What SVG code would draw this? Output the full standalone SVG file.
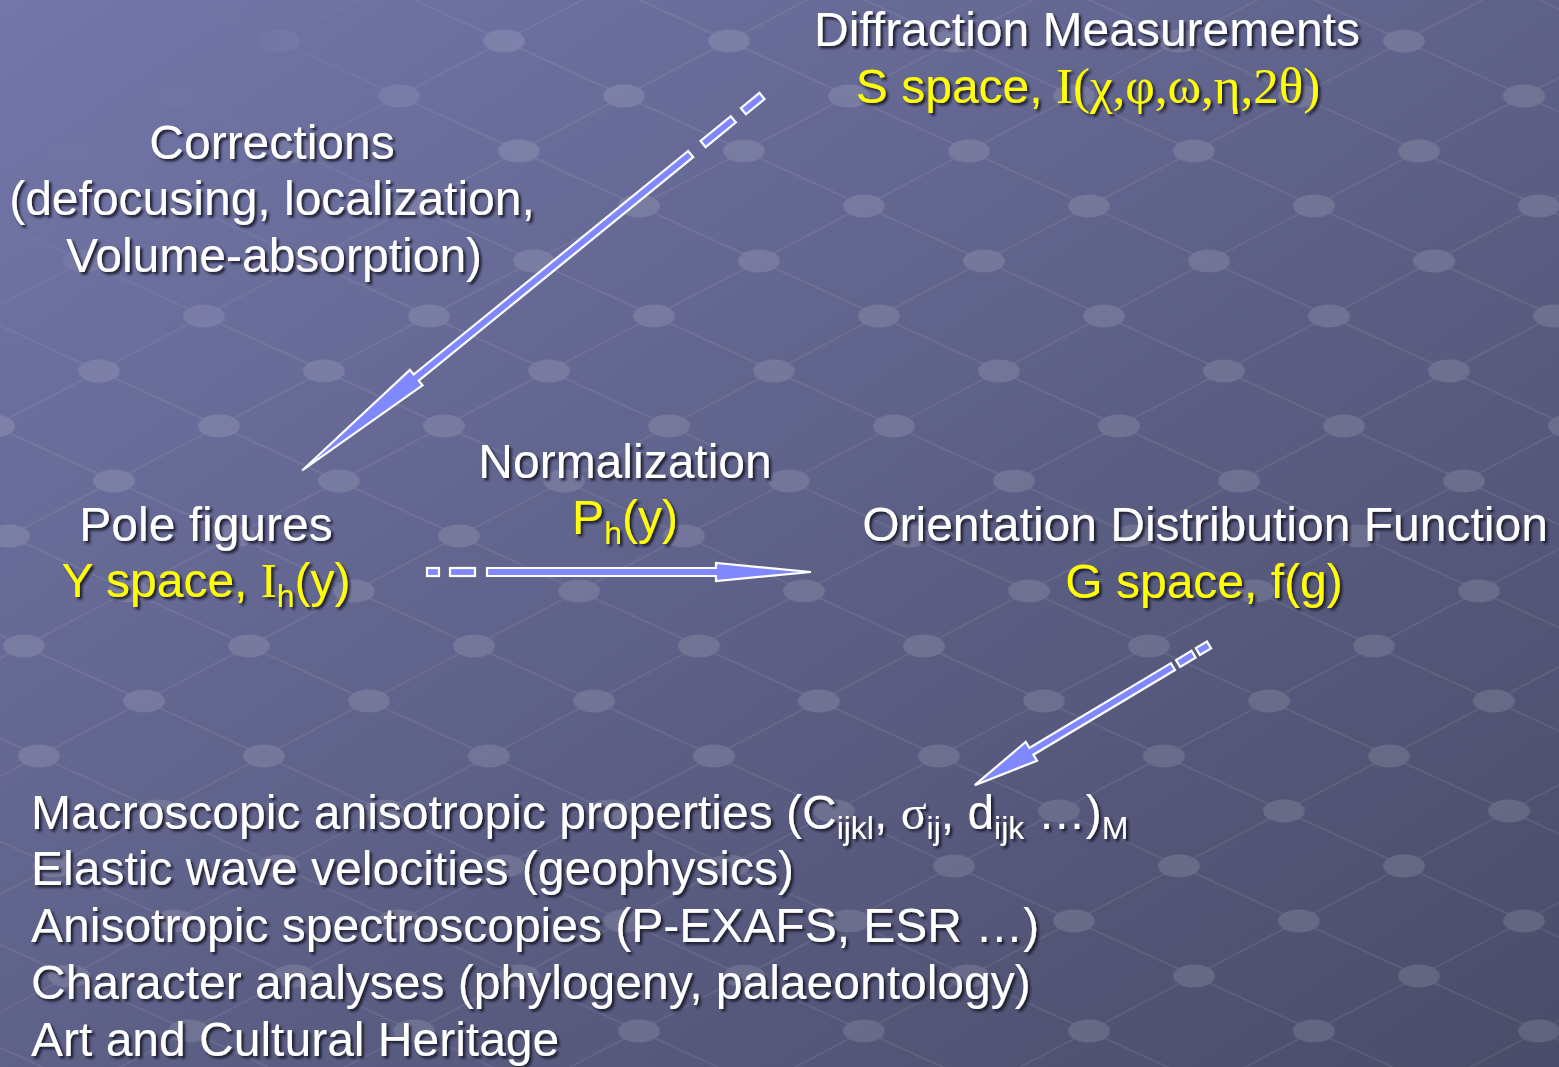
<svg xmlns="http://www.w3.org/2000/svg" width="1559" height="1067" viewBox="0 0 1559 1067">
<defs>
<linearGradient id="bg" x1="0" y1="0" x2="1" y2="1">
<stop offset="0" stop-color="#7377a9"/>
<stop offset="0.5" stop-color="#5e6188"/>
<stop offset="1" stop-color="#4a4c69"/>
</linearGradient>
<radialGradient id="fade" cx="0" cy="0" r="1" gradientUnits="userSpaceOnUse" gradientTransform="scale(520 400)">
<stop offset="0.35" stop-color="#000"/>
<stop offset="1" stop-color="#fff"/>
</radialGradient>
<mask id="m">
<rect width="1559" height="1067" fill="url(#fade)"/>
</mask>
<mask id="hole" maskUnits="userSpaceOnUse" x="0" y="0" width="100" height="100">
<rect width="100" height="100" fill="#fff"/>
<ellipse rx="21" ry="11.5" fill="#000" transform="translate(50 50) matrix(0.4444 -0.4444 0.8485 0.9697 0 0)"/>
</mask>
<pattern id="grid" width="100" height="100" patternUnits="userSpaceOnUse" patternTransform="matrix(1.2 0.55 -1.05 0.55 196.5 261)">
<g mask="url(#hole)">
<path d="M0 50 H100" stroke="#ffffff" stroke-opacity="0.09" stroke-width="1.6" fill="none"/>
<path d="M50 0 V100" stroke="#ffffff" stroke-opacity="0.09" stroke-width="1.4" fill="none"/>
</g>
<ellipse rx="21" ry="11.5" fill="#ffffff" fill-opacity="0.13" transform="translate(50 50) matrix(0.4444 -0.4444 0.8485 0.9697 0 0)"/>
</pattern>
<filter id="sh" x="-5%" y="-20%" width="110%" height="140%">
<feDropShadow dx="2.5" dy="2.5" stdDeviation="1.2" flood-color="#16162a" flood-opacity="0.9"/>
</filter>
</defs>
<style>
.t{font-family:"Liberation Sans",Arial,sans-serif;font-size:48px;fill:#ffffff;filter:url(#sh)}
.y{fill:#ffff00}
.c{text-anchor:middle}
.s{font-family:"Liberation Serif","Times New Roman",serif}
.big{font-size:51px}
.sub{font-size:32px}
.ar{fill:#8088ff;stroke:#ffffff;stroke-width:2.2;stroke-linejoin:miter}
</style>
<rect width="1559" height="1067" fill="url(#bg)"/>
<rect width="1559" height="1067" fill="url(#grid)" mask="url(#m)"/>

<g id="connectors">
<g id="arrow-corrections" transform="translate(762 96) rotate(140.84)">
<rect class="ar" x="0" y="-4" width="24" height="8"/>
<rect class="ar" x="37" y="-4" width="39" height="8"/>
<polygon class="ar" points="92,-4 446,-4 446,-10 593,0 446,10 446,4 92,4"/>
</g>
<g id="arrow-normalization" transform="translate(427 572)">
<rect class="ar" x="0" y="-4" width="12" height="8"/>
<rect class="ar" x="23" y="-4" width="25" height="8"/>
<polygon class="ar" points="60,-4 289,-4 289,-9 384,0 289,9 289,4 60,4"/>
</g>
<g id="arrow-odf" transform="translate(1209 645) rotate(149.1)">
<rect class="ar" x="0" y="-4" width="13" height="8"/>
<rect class="ar" x="18" y="-4" width="18" height="8"/>
<polygon class="ar" points="42,-4 207,-4 207,-11 273,0 207,11 207,4 42,4"/>
</g>
</g>

<g id="node-diffraction">
<text class="t c" x="1087" y="46">Diffraction Measurements</text>
<text class="t c y" x="1088" y="103">S space, <tspan class="s big">I(χ,φ,ω,η,2θ)</tspan></text>
</g>

<g id="node-corrections">
<text class="t c" x="272" y="159">Corrections</text>
<text class="t c" x="272" y="215">(defocusing, localization,</text>
<text class="t c" x="274" y="272">Volume-absorption)</text>
</g>

<g id="node-normalization">
<text class="t c" x="625" y="478">Normalization</text>
<text class="t c y" x="625" y="534">P<tspan class="sub" dy="10">h</tspan><tspan dy="-10">(y)</tspan></text>
</g>

<g id="node-pole">
<text class="t c" x="206" y="541">Pole figures</text>
<text class="t c y" x="206" y="597">Y space, <tspan class="s">I</tspan><tspan class="sub" dy="10">h</tspan><tspan dy="-10">(y)</tspan></text>
</g>

<g id="node-odf">
<text class="t c" x="1205" y="541">Orientation Distribution Function</text>
<text class="t c y" x="1204" y="598">G space, f(g)</text>
</g>

<g id="node-applications">
<text class="t" x="31" y="829">Macroscopic anisotropic properties (C<tspan class="sub" dy="10">ijkl</tspan><tspan dy="-10">, </tspan><tspan class="s">σ</tspan><tspan class="sub" dy="10">ij</tspan><tspan dy="-10">, d</tspan><tspan class="sub" dy="10">ijk</tspan><tspan dy="-10"> …)</tspan><tspan class="sub" dy="10">M</tspan></text>
<text class="t" x="31" y="885">Elastic wave velocities (geophysics)</text>
<text class="t" x="31" y="942">Anisotropic spectroscopies (P-EXAFS, ESR …)</text>
<text class="t" x="31" y="999">Character analyses (phylogeny, palaeontology)</text>
<text class="t" x="31" y="1056">Art and Cultural Heritage</text>
</g>
</svg>
